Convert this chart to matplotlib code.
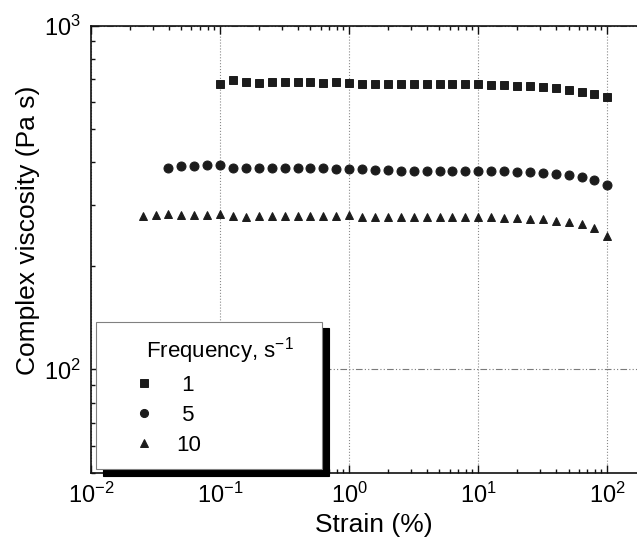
#!/usr/bin/env python3
"""Complex viscosity vs strain amplitude (strain sweep) at three frequencies"""

import matplotlib
matplotlib.use("Agg")
import matplotlib.pyplot as plt
import matplotlib.ticker as ticker

# strain points (%), 10 per decade
STRAIN = [0.0251, 0.0316, 0.0398, 0.0501, 0.0631, 0.0794,
          0.1, 0.126, 0.158, 0.2, 0.251, 0.316, 0.398, 0.501, 0.631, 0.794,
          1.0, 1.26, 1.58, 2.0, 2.51, 3.16, 3.98, 5.01, 6.31, 7.94,
          10.0, 12.6, 15.8, 20.0, 25.1, 31.6, 39.8, 50.1, 63.1, 79.4, 100.0]

# complex viscosity (Pa s)
ETA_1 = [675, 693, 685, 680, 684, 684, 684, 686, 680, 686,
         680, 677, 677, 676, 676, 676, 676, 676, 676, 676,
         676, 671, 671, 668, 667, 664, 657, 651, 642, 631, 621]          # from 0.1 %
ETA_5 = [386, 391, 391, 392, 393, 386, 385, 385, 385, 385,
         385, 385, 385, 383, 382, 382, 380, 379, 378, 378,
         378, 378, 378, 378, 378, 378, 377, 376, 374, 372,
         370, 368, 363, 355, 344]                                         # from 0.0398 %
ETA_10 = [280, 281, 284, 282, 282, 281, 283, 280, 278, 280,
          280, 280, 280, 280, 280, 280, 281, 278, 278, 277,
          277, 277, 277, 277, 277, 277, 277, 277, 276, 275,
          273, 273, 271, 268, 264, 257, 245]                              # from 0.0251 %

FREQ_LABELS = [" 1", " 5", "10"]
INK = "#1c1c1c"

plt.rcParams["font.family"] = ["Liberation Sans", "DejaVu Sans"]
plt.rcParams["mathtext.fontset"] = "custom"
plt.rcParams["mathtext.rm"] = "Liberation Sans"
plt.rcParams["mathtext.it"] = "Liberation Sans:italic"
plt.rcParams["mathtext.default"] = "regular"

fig = plt.figure(figsize=(6.37, 5.41), dpi=100)
ax = fig.add_axes([91 / 637, 68 / 541, 549 / 637, 447.5 / 541])

ax.plot(STRAIN[6:], ETA_1, ls="none", marker="s", ms=5.8, mew=0.7,
        color=INK, label=FREQ_LABELS[0], zorder=3)
ax.plot(STRAIN[2:], ETA_5, ls="none", marker="o", ms=6.5, mew=0.7,
        color=INK, label=FREQ_LABELS[1], zorder=3)
ax.plot(STRAIN, ETA_10, ls="none", marker="^", ms=6.2, mew=0.7,
        color=INK, label=FREQ_LABELS[2], zorder=3)

ax.set_xscale("log")
ax.set_yscale("log")
ax.set_xlim(0.01, 178.9)
ax.set_ylim(50, 1000)

ax.yaxis.set_minor_formatter(ticker.NullFormatter())
ax.xaxis.set_minor_formatter(ticker.NullFormatter())

ax.tick_params(which="both", direction="in", top=True, right=False,
               width=1.0, labelsize=17, color="#111111")
ax.tick_params(which="major", length=6)
ax.tick_params(which="minor", length=3)
ax.tick_params(axis="x", pad=7)
ax.tick_params(axis="y", pad=7)

for sp in ax.spines.values():
    sp.set_linewidth(1.2)
    sp.set_color("#111111")
ax.spines["right"].set_visible(False)

ax.xaxis.grid(True, which="major", ls=":", color="#8a8a8a", lw=0.8)
ax.yaxis.grid(True, which="major", ls=(0, (6, 2, 1, 2, 1, 2)), color="#7a7a7a", lw=0.8)
ax.set_axisbelow(True)

ax.set_xlabel("Strain (%)", fontsize=19)
ax.xaxis.set_label_coords(0.5155, -0.089)
ax.set_ylabel("Complex viscosity (Pa s)", fontsize=19)
ax.yaxis.set_label_coords(-0.092, 0.5415)

leg = ax.legend(title="      Frequency, s$^{-1}$", loc="lower left",
                bbox_to_anchor=(0.0091, 0.0089, 0.4117, 0.1), mode="expand",
                borderaxespad=0, fontsize=16, title_fontsize=16,
                alignment="left", fancybox=False, framealpha=1,
                edgecolor="#808080", facecolor="white",
                shadow={"ox": 4.7, "oy": -4.7, "color": "black", "alpha": 1},
                handlelength=3.1, handletextpad=-0.1, borderpad=0.6,
                labelspacing=0.4, numpoints=1, markerscale=0.9)
leg.get_frame().set_linewidth(0.8)
leg.set_zorder(5)

fig.savefig("out.png", dpi=100)
